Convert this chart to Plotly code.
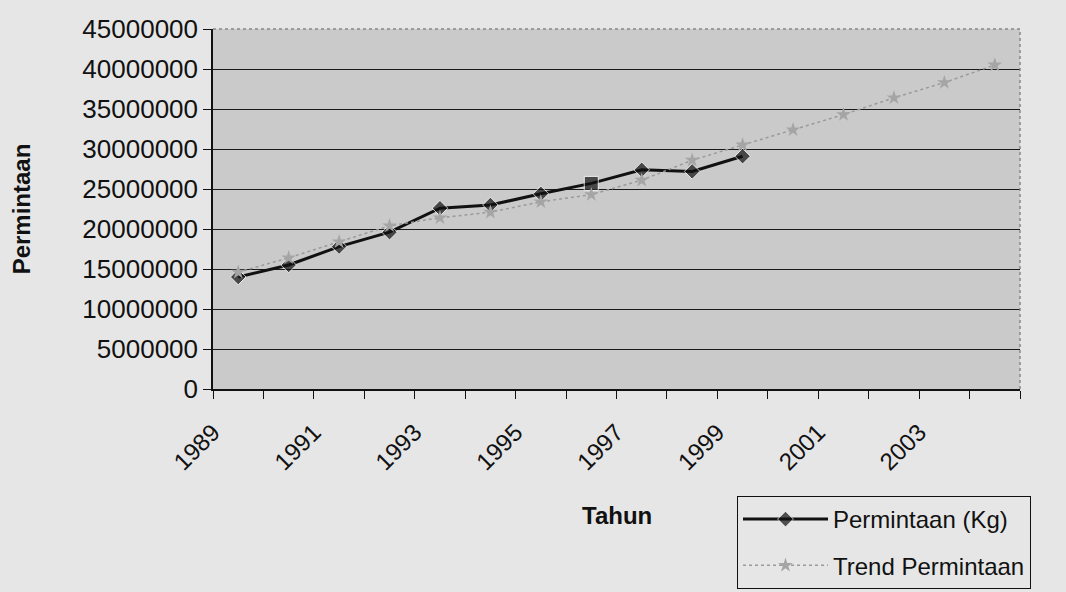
import plotly.graph_objects as go

years = list(range(1989, 2005))
permintaan_years = list(range(1989, 2000))
permintaan_kg = [14.0e6, 15.5e6, 17.8e6, 19.6e6, 22.6e6, 23.0e6, 24.4e6, 25.7e6, 27.4e6, 27.2e6, 29.1e6]
trend_permintaan = [14.6e6, 16.4e6, 18.4e6, 20.4e6, 21.4e6, 22.1e6, 23.4e6, 24.3e6,
                    26.1e6, 28.6e6, 30.5e6, 32.4e6, 34.3e6, 36.4e6, 38.3e6, 40.5e6]
label_years = list(range(1989, 2005, 2))
y_ticks = list(range(0, 45000001, 5000000))

symbols = ["square" if y == 1996 else "diamond" for y in permintaan_years]
sizes = [14 if y == 1996 else 12 for y in permintaan_years]

fig = go.Figure()
fig.add_trace(go.Scatter(
    x=permintaan_years, y=permintaan_kg, name="Permintaan (Kg)",
    mode="lines+markers", legendgroup="a",
    line=dict(color="#111111", width=3),
    marker=dict(symbol=symbols, size=sizes, color="#111111"),
))
fig.add_trace(go.Scatter(
    x=years, y=trend_permintaan, name="Trend Permintaan",
    mode="lines+markers", legendgroup="b",
    line=dict(color="#9a9a9a", width=1.5, dash="dot"),
    marker=dict(symbol="star", size=11, color="#a5a5a5"),
))

font = "Liberation Sans, Arial, sans-serif"
fig.update_layout(
    width=1066, height=592,
    margin=dict(l=213, r=46, t=29, b=203, autoexpand=False),
    paper_bgcolor="#e6e6e6",
    plot_bgcolor="#cacaca",
    font=dict(family=font, size=24, color="#111111"),
    showlegend=True,
    legend=dict(
        x=737 / 1066, y=(592 - 496) / 592, xanchor="left", yanchor="top",
        xref="container", yref="container",
        bgcolor="#e6e6e6", bordercolor="#111111", borderwidth=1,
        font=dict(family=font, size=24, color="#111111"),
        itemwidth=85, traceorder="grouped", tracegroupgap=12,
    ),
    xaxis=dict(
        range=[1988.5, 2004.5],
        tickmode="array",
        tickvals=[y - 0.5 for y in label_years],
        ticktext=[str(y) for y in label_years],
        tickangle=-45,
        ticks="",
        ticklabelstandoff=18,
        showgrid=False,
        zeroline=False,
        showline=True, linecolor="#111111", linewidth=1.5,
        tickfont=dict(family=font, size=24, color="#111111"),
        minor=dict(tickmode="array", tickvals=[y - 0.5 for y in years] + [2004.5],
                   ticks="outside", ticklen=8, tickcolor="#111111", showgrid=False),
    ),
    yaxis=dict(
        range=[0, 45000000],
        tickmode="array", tickvals=y_ticks,
        tickformat="d",
        ticks="outside", ticklen=8, tickcolor="#111111",
        showgrid=True, gridcolor="#1a1a1a", gridwidth=1,
        zeroline=False,
        showline=True, linecolor="#111111", linewidth=1.5,
        tickfont=dict(family=font, size=26, color="#111111"),
        title=dict(text="<b>Permintaan</b>", font=dict(family=font, size=24, color="#111111"),
                   standoff=45),
    ),
    annotations=[dict(
        text="<b>Tahun</b>", xref="paper", yref="paper",
        x=0.5, y=(389 - 515) / 360, xanchor="center", yanchor="middle",
        showarrow=False, font=dict(family=font, size=24, color="#111111"),
    )],
    shapes=[
        dict(type="line", xref="paper", yref="paper", x0=0, x1=1, y0=1, y1=1,
             line=dict(color="#888888", width=1.5, dash="dot")),
        dict(type="line", xref="paper", yref="paper", x0=1, x1=1, y0=0, y1=1,
             line=dict(color="#888888", width=1.5, dash="dot")),
    ],
)

fig.write_html("out.html", config={"displayModeBar": False})
with open("out.html", encoding="utf-8") as f:
    html = f.read()
html = html.replace("<head>", "<head><style>html,body{margin:0;padding:0;background:#e6e6e6;overflow:hidden}</style>", 1)
with open("out.html", "w", encoding="utf-8") as f:
    f.write(html)
